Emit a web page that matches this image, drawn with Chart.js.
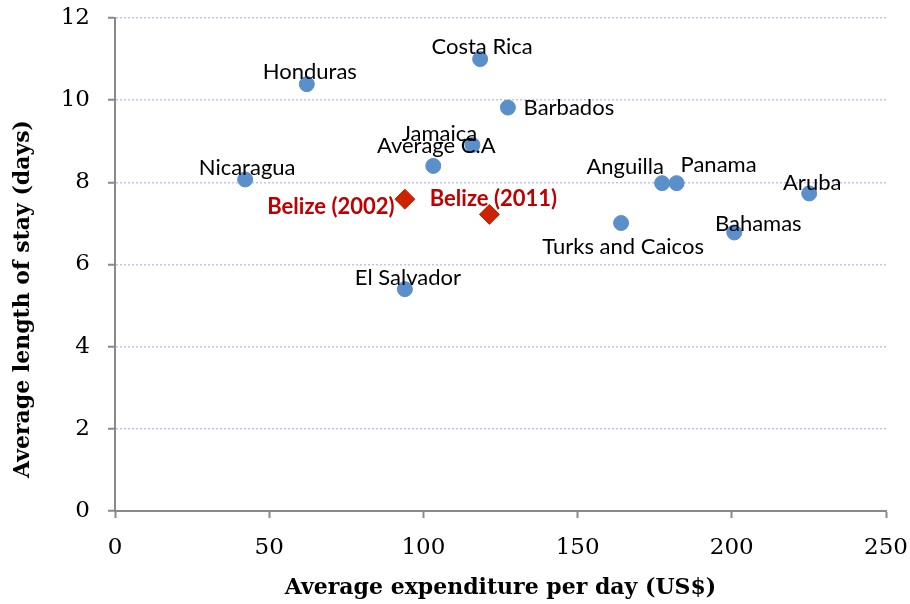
<!DOCTYPE html>
<html>
<head>
<meta charset="utf-8">
<script src="https://cdn.jsdelivr.net/npm/chart.js@4"></script>
<style>
  html, body { margin: 0; padding: 0; background: #fff; }
</style>
</head>
<body>
<canvas id="stay" width="910" height="604"></canvas>
<script>
let countries = ["Honduras", "Costa Rica", "Barbados", "Jamaica", "Average C.A", "Nicaragua", "El Salvador", "Anguilla", "Panama", "Aruba", "Turks and Caicos", "Bahamas"]
let spend = [62.2, 118.4, 127.4, 115.9, 103.2, 42.2, 94.0, 177.4, 182.1, 225.1, 164.1, 200.8]
let stay = [10.39, 11.0, 9.82, 8.91, 8.40, 8.07, 5.40, 7.98, 7.98, 7.73, 7.01, 6.78]

let belize = ["Belize (2002)", "Belize (2011)"]
let belizeSpend = [94.0, 121.4]
let belizeStay = [7.59, 7.22]

let xTicks = [0, 50, 100, 150, 200, 250]
let yTicks = [0, 2, 4, 6, 8, 10, 12]

// label offset from its marker, px
let countryLabelShift = [[3, -12], [2, -12], [61, 0], [-33, -11], [3, -20], [2, -12], [3, -11], [-37, -16], [42, -18], [3, -11], [2, 24], [24, -9]]
let belizeLabelShift = [[-74, 8], [4, -15]]

let pointLabels = {
    id: "pointLabels",
    afterDatasetsDraw(chart) {
        let ctx = chart.ctx
        chart.data.datasets.forEach((ds, d) => {
            let meta = chart.getDatasetMeta(d)
            ctx.save()
            ctx.font = ds.labelFont
            ctx.fillStyle = ds.labelColor
            ctx.textAlign = "center"
            ctx.textBaseline = "middle"
            meta.data.forEach((pt, i) => {
                let s = ds.labelShift[i]
                ctx.fillText(ds.names[i], pt.x + s[0], pt.y + s[1])
            })
            ctx.restore()
        })
    }
}

// y title sits a bit below the middle of the axis, so draw it by hand
let yTitle = {
    id: "yTitle",
    afterDraw(chart) {
        let ctx = chart.ctx
        ctx.save()
        ctx.translate(23, 299)
        ctx.rotate(-Math.PI / 2)
        ctx.font = "bold 22px 'DejaVu Serif'"
        ctx.fillStyle = "#000"
        ctx.textAlign = "center"
        ctx.textBaseline = "middle"
        ctx.fillText("Average length of stay (days)", 0, 0)
        ctx.restore()
    }
}

let ctx1 = document.getElementById("stay").getContext("2d")

new Chart(ctx1, {
    type: "scatter",
    data: {
        datasets: [{
            names: countries,
            labelShift: countryLabelShift,
            labelFont: "22px Lato",
            labelColor: "#000",
            data: spend.map((x, i) => ({ x: x, y: stay[i] })),
            backgroundColor: "#5b8fca",
            borderColor: "#5b8fca",
            pointRadius: 7.5,
            pointHoverRadius: 7.5
        }, {
            names: belize,
            labelShift: belizeLabelShift,
            labelFont: "bold 22px Lato",
            labelColor: "#c00000",
            data: belizeSpend.map((x, i) => ({ x: x, y: belizeStay[i] })),
            backgroundColor: "#cc2200",
            borderColor: "#cc2200",
            pointStyle: "rectRot",
            pointRadius: 10,
            pointHoverRadius: 10
        }]
    },
    options: {
        responsive: false,
        animation: false,
        devicePixelRatio: 1,
        layout: { padding: { top: 18, right: 24, bottom: 0, left: 0 } },
        plugins: {
            legend: { display: false },
            tooltip: { enabled: false }
        },
        scales: {
            x: {
                min: 0,
                max: 250,
                afterBuildTicks: s => { s.ticks = xTicks.map(v => ({ value: v })) },
                afterFit: s => { s.height = 93; s.paddingLeft = 0; s.paddingRight = 0 },
                grid: { drawOnChartArea: false, drawTicks: true, tickLength: 7, tickColor: "#898989", tickWidth: 2 },
                border: { color: "#898989", width: 2 },
                ticks: { color: "#000", padding: 16, font: { family: "DejaVu Serif", size: 23 } },
                title: {
                    display: true,
                    text: "Average expenditure per day (US$)",
                    color: "#000",
                    font: { family: "DejaVu Serif", size: 22, weight: "bold" },
                    padding: { top: 0, bottom: 3 }
                }
            },
            y: {
                min: 0,
                max: 12,
                afterBuildTicks: s => { s.ticks = yTicks.map(v => ({ value: v })) },
                afterFit: s => { s.width = 115; s.paddingTop = 0; s.paddingBottom = 0 },
                grid: {
                    color: c => c.tick && c.tick.value === 0 ? "rgba(0,0,0,0)" : "#c2c2f4",
                    lineWidth: 1.5,
                    tickLength: 7,
                    tickColor: "#898989",
                    tickWidth: 2
                },
                border: { color: "#898989", width: 2, dash: [2, 2] },
                ticks: { color: "#000", padding: 18, font: { family: "DejaVu Serif", size: 23 } }
            }
        }
    },
    plugins: [pointLabels, yTitle]
})
</script>
</body>
</html>
